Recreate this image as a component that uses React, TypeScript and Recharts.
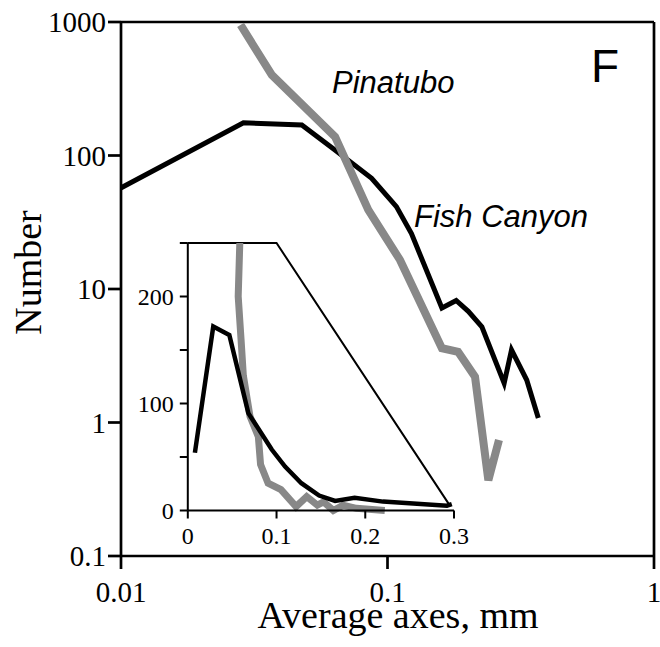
import { LineChart, Line, XAxis, YAxis, ReferenceLine } from 'recharts'

const SERIF = '"Liberation Serif", "Times New Roman", serif'
const SANS = '"Liberation Sans", Arial, sans-serif'
const GRAY = '#888888'

// main log-log panel: grain size (mm) vs. number of grains
const fishCanyonSize = [0.00955, 0.0288, 0.0477, 0.0635, 0.0872, 0.108, 0.123, 0.16, 0.181, 0.201, 0.226, 0.274, 0.292, 0.333, 0.368]
const fishCanyonCount = [54.5, 176, 169, 110, 67.5, 41.4, 26, 7.2, 8.2, 6.8, 5.2, 1.97, 3.5, 2.08, 1.08]
const pinatuboSize = [0.0281, 0.0368, 0.0636, 0.0847, 0.1114, 0.16, 0.184, 0.213, 0.239, 0.262]
const pinatuboCount = [950, 401, 138, 39.1, 16.5, 3.6, 3.39, 2.2, 0.37, 0.74]

const mainXTicks = [0.01, 0.1, 1]
const mainYTicks = [0.1, 1, 10, 100, 1000]

// linear inset
const fishCanyonInsetSize = [0.008, 0.0287, 0.0468, 0.0682, 0.0946, 0.1096, 0.128, 0.148, 0.166, 0.188, 0.22, 0.292, 0.2975]
const fishCanyonInsetCount = [54, 172, 164, 91, 57, 41, 25.5, 14, 9, 12, 8.3, 4.5, 6]
const pinatuboInsetSize = [0.0586, 0.0568, 0.06, 0.0626, 0.0701, 0.0795, 0.082, 0.0905, 0.105, 0.122, 0.134, 0.146, 0.153, 0.164, 0.175, 0.19, 0.222]
const pinatuboInsetCount = [250, 200, 160, 126, 88, 69, 43, 25.5, 19.5, 3.6, 13, 5, 8, 0, 5, 2, 0]
const insetGuideSize = [0, 0.1, 0.295]
const insetGuideCount = [250, 250, 5]

const insetXTicks = [0, 0.1, 0.2, 0.3]
const insetYTicks = [0, 50, 100, 150, 200, 250]

const toPoints = (xs: number[], ys: number[]) => xs.map((x, i) => ({ x, y: ys[i] }))

const fishCanyon = toPoints(fishCanyonSize, fishCanyonCount)
const pinatubo = toPoints(pinatuboSize, pinatuboCount)
const fishCanyonInset = toPoints(fishCanyonInsetSize, fishCanyonInsetCount)
const pinatuboInset = toPoints(pinatuboInsetSize, pinatuboInsetCount)
const insetGuide = toPoints(insetGuideSize, insetGuideCount)

const mainAxisLine = { stroke: '#000', strokeWidth: 2.7 }
const insetAxisLine = { stroke: '#000', strokeWidth: 2 }

function MainPanel() {
  return (
    <LineChart width={660} height={647} margin={{ top: 22, right: 6, bottom: 61, left: 61 }}>
      <XAxis
        dataKey="x"
        type="number"
        scale="log"
        domain={[0.01, 1]}
        allowDataOverflow
        ticks={mainXTicks}
        interval={0}
        height={30}
        tickSize={13}
        tickMargin={12}
        axisLine={mainAxisLine}
        tickLine={mainAxisLine}
        tick={{ fill: '#000', fontSize: 29, fontFamily: SERIF }}
        tickFormatter={(v: number) => String(v)}
      />
      <YAxis
        dataKey="y"
        type="number"
        scale="log"
        domain={[0.1, 1000]}
        ticks={mainYTicks}
        interval={0}
        width={60}
        tickSize={13}
        tickMargin={2}
        axisLine={mainAxisLine}
        tickLine={mainAxisLine}
        tick={{ fill: '#000', fontSize: 29, fontFamily: SERIF }}
        tickFormatter={(v: number) => String(v)}
      />
      <ReferenceLine y={1000} stroke="#000" strokeWidth={2.7} />
      <ReferenceLine x={1} stroke="#000" strokeWidth={2.7} />
      <Line data={fishCanyon} dataKey="y" type="linear" stroke="#000" strokeWidth={5} dot={false} isAnimationActive={false} />
      <Line data={pinatubo} dataKey="y" type="linear" stroke={GRAY} strokeWidth={8} dot={false} isAnimationActive={false} />

      <text x={398} y={628} textAnchor="middle" fontSize={38} fontFamily={SERIF} fill="#000">Average axes, mm</text>
      <text transform="translate(41,272.5) rotate(-90)" textAnchor="middle" fontSize={38} fontFamily={SERIF} fill="#000">Number</text>
      <text x={332} y={93} fontSize={31} fontStyle="italic" fontFamily={SANS} fill="#000">Pinatubo</text>
      <text x={414} y={227} fontSize={31} fontStyle="italic" fontFamily={SANS} fill="#000">Fish Canyon</text>
      <text x={591} y={82} fontSize={46} fontFamily={SANS} fill="#000">F</text>
    </LineChart>
  )
}

function InsetPanel() {
  return (
    <LineChart width={350} height={320} margin={{ top: 13, right: 16, bottom: 9.5, left: 7.8 }}>
      <XAxis
        dataKey="x"
        type="number"
        domain={[0, 0.3]}
        ticks={insetXTicks}
        interval={0}
        height={30}
        tickSize={8}
        tickMargin={8}
        axisLine={insetAxisLine}
        tickLine={insetAxisLine}
        tick={{ fill: '#000', fontSize: 24, fontFamily: SERIF }}
        tickFormatter={(v: number) => String(v)}
      />
      <YAxis
        dataKey="y"
        type="number"
        domain={[0, 250]}
        ticks={insetYTicks}
        interval={0}
        width={60}
        tickSize={8}
        tickMargin={6}
        axisLine={insetAxisLine}
        tickLine={insetAxisLine}
        tick={{ fill: '#000', fontSize: 24, fontFamily: SERIF }}
        tickFormatter={(v: number) => (v % 100 === 0 ? String(v) : '')}
      />
      <Line data={insetGuide} dataKey="y" type="linear" stroke="#000" strokeWidth={2} dot={false} isAnimationActive={false} />
      <Line data={pinatuboInset} dataKey="y" type="linear" stroke={GRAY} strokeWidth={7} dot={false} isAnimationActive={false} />
      <Line data={fishCanyonInset} dataKey="y" type="linear" stroke="#000" strokeWidth={4.5} dot={false} isAnimationActive={false} />
    </LineChart>
  )
}

export default function App() {
  return (
    <div style={{ position: 'absolute', left: 0, top: 0, width: 660, height: 647, background: '#fff' }}>
      <MainPanel />
      <div style={{ position: 'absolute', left: 120, top: 230 }}>
        <InsetPanel />
      </div>
    </div>
  )
}
